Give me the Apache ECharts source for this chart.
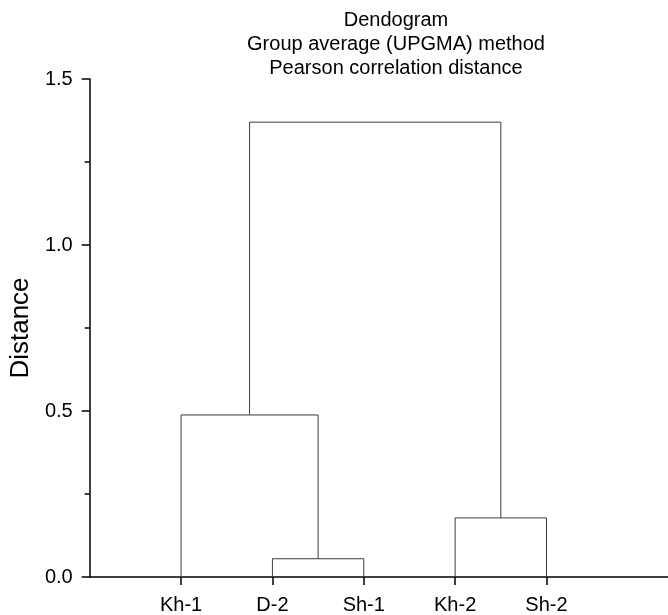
<!DOCTYPE html>
<html>
<head>
<meta charset="utf-8">
<script src="https://cdn.jsdelivr.net/npm/echarts@6/dist/echarts.min.js"></script>
<style>
html,body{margin:0;padding:0;background:#fff;}
#chart{width:668px;height:615px;}
</style>
</head>
<body>
<div id="chart"></div>
<script>
// Leaves in dendrogram order
const leafNames = ['Kh-1', 'D-2', 'Sh-1', 'Kh-2', 'Sh-2'];
// Merges (cluster ids: leaves 0-4, new clusters 5, 6, 7, 8)
const mergePairs = [[1, 2], [0, 5], [3, 4], [6, 7]];
const mergeHeights = [0.055, 0.488, 0.178, 1.37];
const yTicks = [0, 0.5, 1.0, 1.5];
const titleLines = ['Dendogram', 'Group average (UPGMA) method', 'Pearson correlation distance'];

// cluster positions / heights
const pos = leafNames.map((_, i) => i + 1);
const hgt = leafNames.map(() => 0);
const linkSeries = [];
mergePairs.forEach((pair, k) => {
  const [a, b] = pair;
  const h = mergeHeights[k];
  const xl = pos[a], xr = pos[b];
  linkSeries.push({
    type: 'line',
    data: [[xl, hgt[a]], [xl, h], [xr, h], [xr, hgt[b]]],
    symbol: 'none',
    silent: true,
    animation: false,
    lineStyle: { color: '#3c3c3c', width: 1 }
  });
  pos.push((xl + xr) / 2);
  hgt.push(h);
});

const chart = echarts.init(document.getElementById('chart'), null, { renderer: 'canvas' });
chart.setOption({
  backgroundColor: '#ffffff',
  animation: false,
  title: {
    text: titleLines.join('\n'),
    left: 391,
    top: 3,
    textAlign: 'center',
    textStyle: {
      fontFamily: 'Liberation Sans, Arial, sans-serif',
      fontSize: 20,
      fontWeight: 'normal',
      color: '#000',
      lineHeight: 24
    }
  },
  grid: { left: 88, right: 0, top: 79, bottom: 37, containLabel: false },
  xAxis: {
    type: 'value',
    min: 0,
    max: 6.33,
    splitLine: { show: false },
    axisLine: { show: true, onZero: false, lineStyle: { color: '#000', width: 1.5 } },
    axisTick: { show: true, length: 8, customValues: leafNames.map((_, i) => i + 1), lineStyle: { color: '#000', width: 1.5 } },
    axisLabel: {
      show: true,
      customValues: leafNames.map((_, i) => i + 1),
      formatter: v => leafNames[Math.round(v) - 1] || '',
      margin: 18,
      fontFamily: 'Liberation Sans, Arial, sans-serif',
      fontSize: 20,
      color: '#000'
    }
  },
  yAxis: {
    type: 'value',
    min: yTicks[0],
    max: yTicks[yTicks.length - 1],
    interval: 0.5,
    name: 'Distance',
    nameLocation: 'middle',
    nameRotate: 90,
    nameGap: 50,
    nameTextStyle: {
      fontFamily: 'Liberation Sans, Arial, sans-serif',
      fontSize: 26,
      color: '#000'
    },
    splitLine: { show: false },
    axisLine: { show: true, onZero: false, lineStyle: { color: '#000', width: 1.5 } },
    axisTick: { show: true, length: 8, lineStyle: { color: '#000', width: 1.5 } },
    minorTick: { show: true, splitNumber: 2, length: 5, lineStyle: { color: '#000', width: 1.5 } },
    axisLabel: {
      margin: 17,
      formatter: v => v.toFixed(1),
      fontFamily: 'Liberation Sans, Arial, sans-serif',
      fontSize: 20,
      color: '#000'
    }
  },
  series: linkSeries
});
</script>
</body>
</html>
